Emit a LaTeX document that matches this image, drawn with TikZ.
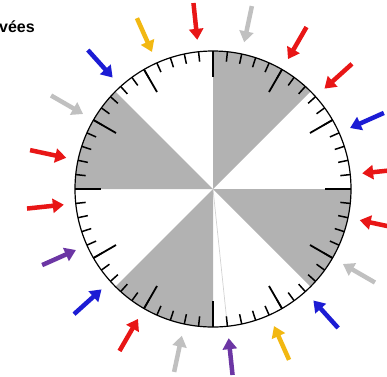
\documentclass[tikz,border=0pt]{standalone}
\usepackage{fontspec}
\setsansfont{Liberation Sans}
\usetikzlibrary{arrows.meta}
\definecolor{sectorgray}{RGB}{178,178,178}
\definecolor{arrred}{RGB}{232,22,22}
\definecolor{arrblue}{RGB}{28,28,212}
\definecolor{arrgray}{RGB}{192,192,192}
\definecolor{arrgold}{RGB}{242,184,18}
\definecolor{arrpurple}{RGB}{108,54,164}

\begin{document}
\begin{tikzpicture}[x=1pt, y=1pt,
    inarrow/.style={line width=4.5pt, -{Triangle[length=11pt,width=14pt]}}]
  \useasboundingbox (-213,-187) rectangle (174,189);
  % grey sectors
  \foreach \a in {45,135,225,315}{
    \fill[sectorgray] (0,0) -- (\a:138) arc[start angle=\a, end angle=\a+45, radius=138] -- cycle;
  }
  \draw[gray!35, line width=0.7pt] (0,0) -- (276:138);
  \draw[line width=1.2pt] (0,0) circle (138);
  % ticks
  \foreach \t in {0,6,...,354}{
    \draw[line width=1.5pt] (\t:138) -- (\t:128);
  }
  \foreach \t in {0,30,...,330}{
    \draw[line width=1.8pt] (\t:138) -- (\t:112);
  }
  % arrows
  \foreach \c [count=\i from 0] in {arrred,arrblue,arrred,arrred,arrgray,arrred,arrgold,arrblue,arrgray,arrred,
                                     arrred,arrpurple,arrblue,arrred,arrgray,arrpurple,arrgold,arrblue,arrgray,arrred}{
    \draw[inarrow, \c] ({6+18*\i}:187) -- ({6+18*\i}:150);
  }
  \node[anchor=base west, inner sep=0pt, font=\sffamily\bfseries\fontsize{16}{19}\selectfont] (legend) at (-214,157) {vées};
\end{tikzpicture}
\end{document}
